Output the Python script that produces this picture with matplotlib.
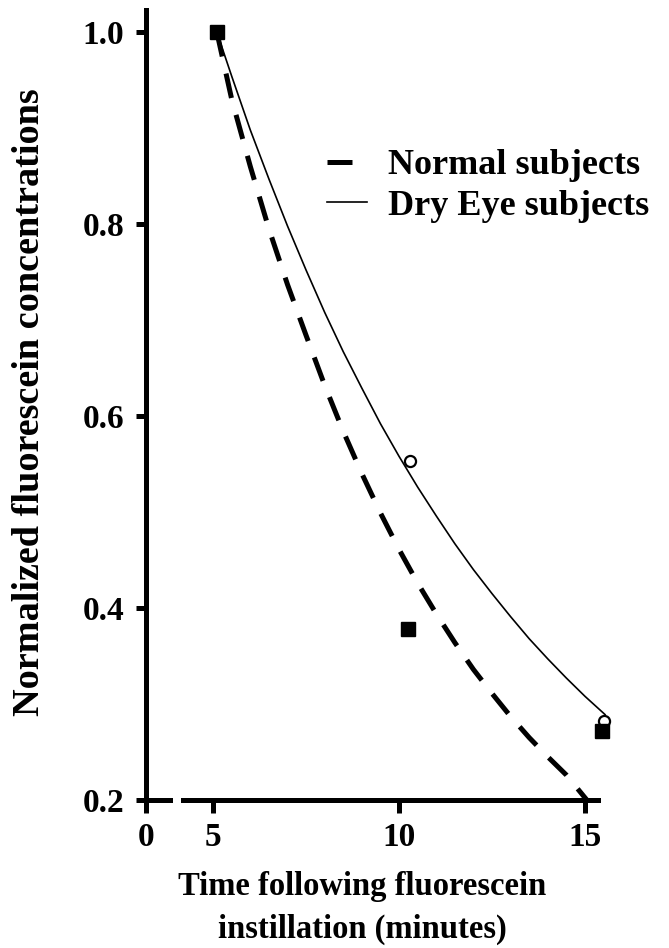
import matplotlib
matplotlib.use('Agg')
import matplotlib.pyplot as plt

plt.rcParams['font.family'] = ['Liberation Serif', 'DejaVu Serif']
plt.rcParams['font.weight'] = 'bold'
plt.rcParams['axes.labelweight'] = 'bold'

# fitted curves
normal_t = [5.1, 5.5, 6.0, 6.5, 7.0, 7.5, 8.0, 8.5, 9.0, 9.5, 10.0, 10.5, 11.0, 11.5,
            12.0, 12.5, 13.0, 13.5, 14.0, 14.5, 15.05]
normal_v = [1.0, 0.930, 0.860, 0.795, 0.737, 0.684, 0.632, 0.584, 0.540, 0.499, 0.461, 0.426,
            0.394, 0.364, 0.336, 0.311, 0.287, 0.265, 0.245, 0.226, 0.200]
dry_t = [5.1, 5.5, 6.0, 6.5, 7.0, 7.5, 8.0, 8.5, 9.0, 9.5, 10.0, 10.5, 11.0, 11.5,
         12.0, 12.5, 13.0, 13.5, 14.0, 14.5, 15.0, 15.54]
dry_v = [1.0, 0.954, 0.898, 0.847, 0.798, 0.752, 0.708, 0.667, 0.629, 0.592, 0.558, 0.526,
         0.496, 0.467, 0.440, 0.415, 0.391, 0.368, 0.347, 0.327, 0.308, 0.289]

# measured points
normal_pt_t = [5.1, 10.25, 15.45]
normal_pt_v = [1.0, 0.378, 0.272]
dry_pt_t = [5.1, 10.3, 15.5]
dry_pt_v = [1.0, 0.553, 0.282]

yticks = [0.2, 0.4, 0.6, 0.8, 1.0]
xticks = [5, 10, 15]

fig = plt.figure(figsize=(6.69, 9.48), dpi=100)
W, H = 669, 948
ax0 = fig.add_axes([146/W, 148/H, 24/W, 790/H])
ax = fig.add_axes([183/W, 148/H, 415/W, 790/H], sharey=ax0)

lw = 3.6
for a in (ax0, ax):
    a.spines['top'].set_visible(False)
    a.spines['right'].set_visible(False)
    a.spines['bottom'].set_linewidth(lw)
    a.spines['left'].set_linewidth(lw)
    a.tick_params(axis='x', direction='out', length=9.5, width=lw, pad=6, labelsize=24)
    a.tick_params(axis='y', direction='out', length=7.5, width=lw, pad=8, labelsize=24)
ax.spines['left'].set_visible(False)
ax.tick_params(axis='y', left=False, labelleft=False)

ax0.set_xlim(0, 1)
ax0.set_xticks([0])
ax0.set_xticklabels(['0'])
ax0.set_ylim(0.2, 1.023)
ax0.set_yticks(yticks)
ax0.set_yticklabels(['%.1f' % v for v in yticks])
ax0.set_ylabel('Normalized fluorescein concentrations', fontsize=27.5)
ax0.yaxis.set_label_coords(-(146 - 47) / 24, (800 - 402) / 790)

ax.set_xlim(4.19, 15.35)
ax.set_xticks(xticks)
ax.set_xticklabels([str(v) for v in xticks])
ax.set_xlabel('Time following fluorescein\ninstillation (minutes)', fontsize=23.5,
              linespacing=1.5)
ax.xaxis.set_label_coords((362 - 183) / 415, -(871 - 800) / 790)

ln1, = ax.plot(normal_t, normal_v, color='black', lw=3.6, linestyle=(0, (5, 3.5)),
               dash_capstyle='butt', clip_on=False, label='Normal subjects')
ln2, = ax.plot(dry_t, dry_v, color='black', lw=1.2, clip_on=False, label='Dry Eye subjects')
ax.plot(dry_pt_t, dry_pt_v, 'o', mfc='white', mec='black', mew=1.6, ms=8, clip_on=False, zorder=3)
ax.plot(normal_pt_t, normal_pt_v, 's', color='black', ms=10, clip_on=False, zorder=4)

ax.legend(handles=[ln1, ln2], loc='upper left', bbox_to_anchor=(309/W, 1 - 131/H),
          bbox_transform=fig.transFigure, frameon=False, fontsize=26,
          handlelength=1.1, handletextpad=0.6, labelspacing=0.2, borderpad=0)

fig.savefig('out.png', dpi=100)
